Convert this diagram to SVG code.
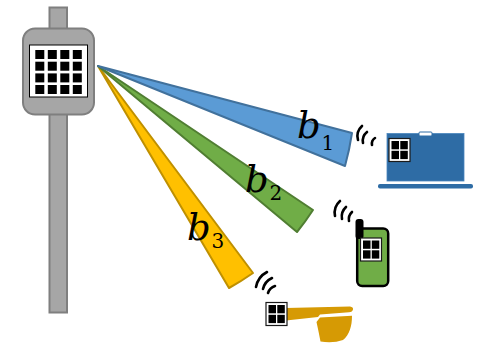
<svg xmlns="http://www.w3.org/2000/svg" width="487" height="347" viewBox="0 0 487 347">
  <defs>
    <style>
      .pole { fill: #a6a6a6; stroke: #7f7f7f; stroke-width: 2; }
      .px { fill: #000000; }
      .chip { fill: #ffffff; stroke: #1a1a1a; stroke-width: 1.2; }
      .wave { fill: none; stroke: #000000; stroke-width: 2.6; stroke-linecap: round; }
      .lbl { font-family: "DejaVu Serif", "Liberation Serif", serif; font-style: italic; font-size: 37px; fill: #000000; }
      .sub { font-family: "DejaVu Serif", "Liberation Serif", serif; font-size: 20px; fill: #000000; }
    </style>
    <!-- 2x2 pixel tile used on each device -->
    <g id="chip2">
      <rect class="chip" x="0" y="0" width="21" height="23"/>
      <rect class="px" x="2.5" y="2.5" width="7.5" height="8.3"/>
      <rect class="px" x="11.3" y="2.5" width="7.5" height="8.3"/>
      <rect class="px" x="2.5" y="12.3" width="7.5" height="8.3"/>
      <rect class="px" x="11.3" y="12.3" width="7.5" height="8.3"/>
    </g>
  </defs>

  <!-- base station -->
  <g id="base-station">
    <rect class="pole" x="49.5" y="7.5" width="17.5" height="305"/>
    <rect class="pole" x="23" y="28.5" width="71" height="86" rx="12"/>
    <rect x="29.5" y="45" width="58" height="52" fill="#ffffff" stroke="#000000" stroke-width="1"/>
    <g class="px">
      <rect x="35.3" y="50" width="9" height="9"/><rect x="47.8" y="50" width="9" height="9"/><rect x="60.3" y="50" width="9" height="9"/><rect x="72.8" y="50" width="9" height="9"/>
      <rect x="35.3" y="61.7" width="9" height="9"/><rect x="47.8" y="61.7" width="9" height="9"/><rect x="60.3" y="61.7" width="9" height="9"/><rect x="72.8" y="61.7" width="9" height="9"/>
      <rect x="35.3" y="73.4" width="9" height="9"/><rect x="47.8" y="73.4" width="9" height="9"/><rect x="60.3" y="73.4" width="9" height="9"/><rect x="72.8" y="73.4" width="9" height="9"/>
      <rect x="35.3" y="85" width="9" height="9"/><rect x="47.8" y="85" width="9" height="9"/><rect x="60.3" y="85" width="9" height="9"/><rect x="72.8" y="85" width="9" height="9"/>
    </g>
  </g>

  <!-- beams -->
  <g id="beams" stroke-width="2" stroke-linejoin="round">
    <g id="beam-b3">
      <path d="M98 66 L253 273 A259 259 0 0 1 229 288 Z" fill="#ffc000" stroke="#bf9000"/>
      <text class="lbl" x="187" y="240">b</text><text class="sub" x="211.5" y="248">3</text>
    </g>
    <g id="beam-b2">
      <path d="M98 66 L313 210 A259 259 0 0 1 297 232 Z" fill="#70ad47" stroke="#507e32"/>
      <text class="lbl" x="245" y="191.5">b</text><text class="sub" x="269.5" y="200">2</text>
    </g>
    <g id="beam-b1">
      <path d="M98 66 L352 133 A265 265 0 0 1 345 166 Z" fill="#5b9bd5" stroke="#41719c"/>
      <text class="lbl" x="297" y="138">b</text><text class="sub" x="321.5" y="149.5">1</text>
    </g>
  </g>

  <!-- laptop -->
  <g id="laptop">
    <rect x="387" y="133.5" width="77" height="47.5" fill="#2e6ca5" stroke="#4a85bd" stroke-width="0.8"/>
    <rect x="419" y="132" width="13" height="4" rx="1" fill="#ffffff" stroke="#2e6ca5" stroke-width="1"/>
    <rect x="378" y="184" width="95" height="4.5" rx="2" fill="#2e6ca5"/>
    <use href="#chip2" x="389" y="138.5"/>
    <path class="wave" d="M362 126 Q355.7 131.8 358 140"/>
    <path class="wave" d="M367 132 Q361.7 136.3 363 143"/>
    <path class="wave" d="M375 138 Q371.2 140.5 372 145"/>
  </g>

  <!-- phone -->
  <g id="phone">
    <rect x="357.2" y="228.5" width="31" height="57.5" rx="5" fill="#70ad47" stroke="#000000" stroke-width="2.5"/>
    <rect x="355.5" y="219" width="8" height="20" rx="3" fill="#000000"/>
    <use href="#chip2" x="360.5" y="238"/>
    <path class="wave" d="M340 201 Q333.2 207.1 335 216"/>
    <path class="wave" d="M346 207 Q340.7 211.9 342 219"/>
    <path class="wave" d="M352 212 Q348.1 215.7 349 221"/>
  </g>

  <!-- glasses -->
  <g id="glasses">
    <path d="M286 308 L350 306.5 Q353.5 307 353 309.5 Q352.5 312 349 312.3 L320 314.5 L318 317 L286 320.5 Z" fill="#d69a04"/>
    <path d="M320 317.5 L352 315.8 C352 326 349.5 335 343 340 Q333 343.5 320.5 341.5 Q318.5 331 316.5 322 Z" fill="#d69a04"/>
    <use href="#chip2" x="266" y="302.5"/>
    <path class="wave" d="M267 272 Q257.9 276.8 256 287"/>
    <path class="wave" d="M272 278 Q264.8 281.3 263 289"/>
    <path class="wave" d="M275 286 Q269.7 287.7 268 293"/>
  </g>
</svg>
